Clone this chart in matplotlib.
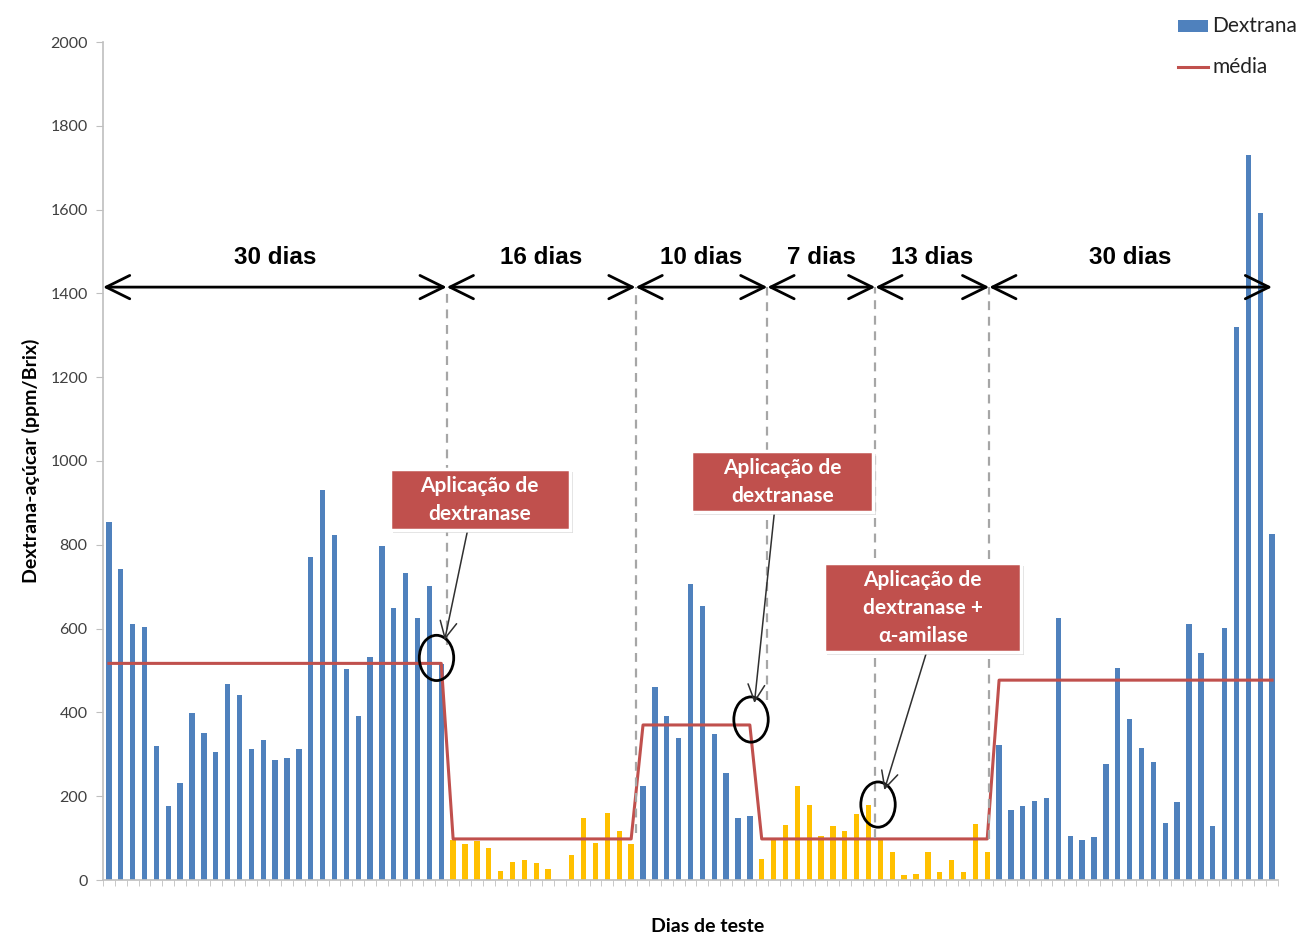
import matplotlib
matplotlib.use("Agg")
import matplotlib.pyplot as plt
from matplotlib.patches import Rectangle, Ellipse
from matplotlib.lines import Line2D

# ---------------- data ----------------
dextrana_s1 = [855, 743, 611, 605, 319, 177, 232, 398, 352, 305, 467, 441, 312, 333, 286,
               291, 312, 771, 931, 824, 504, 392, 532, 798, 650, 733, 625, 702, 515]
dextrana_s2 = [95, 87, 93, 76, 22, 44, 48, 40, 26, 0, 60, 147, 89, 161, 118, 86]
dextrana_s3 = [225, 461, 391, 340, 706, 654, 348, 256, 147, 153]
dextrana_s4 = [50, 95, 131, 225, 178, 105, 130]
dextrana_s5 = [118, 157, 178, 95, 68, 12, 14, 66, 18, 48, 18, 133, 68]
dextrana_s6 = [323, 167, 177, 188, 196, 626, 106, 96, 103, 276, 506, 384, 315, 282, 135,
               187, 612, 542, 130, 601, 1320, 1730, 1593, 826]
segments = [dextrana_s1, dextrana_s2, dextrana_s3, dextrana_s4, dextrana_s5, dextrana_s6]
segment_colors = ["#4F81BD", "#FFC000", "#4F81BD", "#FFC000", "#FFC000", "#4F81BD"]
media_segments = [517, 98, 370, 98, 98, 477]

period_labels = ["30 dias", "16 dias", "10 dias", "7 dias", "13 dias", "30 dias"]
period_bounds = [-0.5, 28.46, 44.37, 55.48, 64.57, 74.17, 98.0]

yticks = [0, 200, 400, 600, 800, 1000, 1200, 1400, 1600, 1800, 2000]

# ---------------- build series ----------------
values, colors, media = [], [], []
for seg, c, m in zip(segments, segment_colors, media_segments):
    values += seg
    colors += [c] * len(seg)
    media += [m] * len(seg)
x = list(range(len(values)))

W, H = 1302, 948
fig = plt.figure(figsize=(W / 100, H / 100), dpi=100)
ax = fig.add_axes([103 / W, 1 - 880 / H, (1278 - 103) / W, (880 - 42) / H])

FONT = ["Lato", "DejaVu Sans"]
ARIAL = ["Liberation Sans", "DejaVu Sans"]

ax.bar(x, values, width=0.45, color=colors, zorder=2)
ax.plot(x, media, color="#C0504D", lw=2.2, zorder=3)

ax.set_xlim(-0.5, len(values) - 0.5)
ax.set_ylim(0, 2000)
ax.set_yticks(yticks)
ax.set_yticklabels([str(t) for t in yticks], family=FONT, fontsize=11.5, color="#404040")
ax.set_xticks([])
ax.set_xticks([i + 0.5 for i in range(-1, len(values))], minor=True)
ax.tick_params(axis="x", which="minor", length=4, color="#BFBFBF", direction="out")
ax.tick_params(axis="y", length=5, color="#BFBFBF", direction="out", pad=6)
for s in ["top", "right"]:
    ax.spines[s].set_visible(False)
ax.spines["left"].set_color("#BFBFBF")
ax.spines["bottom"].set_color("#BFBFBF")
ax.spines["left"].set_linewidth(1.2)
ax.spines["bottom"].set_linewidth(1.2)

ax.set_xlabel("Dias de teste", family=FONT, fontsize=14, fontweight="bold")
ax.xaxis.set_label_coords((708 - 103) / (1278 - 103), -(927 - 880) / (880 - 42))
ax.xaxis.label.set_va("center")
ax.set_ylabel("Dextrana-açúcar (ppm/Brix)", family=FONT, fontsize=14, fontweight="bold", labelpad=7)

# ---------------- period arrows ----------------
arrow_y = 1415
for i, lab in enumerate(period_labels):
    a, b = period_bounds[i], period_bounds[i + 1]
    ax.annotate("", xy=(b, arrow_y), xytext=(a, arrow_y),
                arrowprops=dict(arrowstyle="<->,head_length=0.85,head_width=0.42",
                                mutation_scale=20, lw=2.0, color="black",
                                shrinkA=0, shrinkB=0), zorder=5, annotation_clip=False)
    ax.text((a + b) / 2, 1458, lab, ha="center", va="bottom", family=ARIAL,
            fontsize=17.5, fontweight="bold", zorder=6)

# dashed vertical lines (x, y bottom)
dash_specs = [(period_bounds[1], 560), (period_bounds[2], 112), (period_bounds[3], 430),
              (period_bounds[4], 100), (period_bounds[5], 98)]
for xx, yb in dash_specs:
    ax.plot([xx, xx], [yb, arrow_y], color="#A6A6A6", lw=1.6, ls=(0, (4, 3)), zorder=4)

# ellipses
for cx, cy in [(27.6, 530), (54.1, 383), (64.8, 180)]:
    ax.add_patch(Ellipse((cx, cy), 2.9, 108, fill=False, ec="black", lw=2.0, zorder=6))

# boxes with text
def px2d(px, py):
    return (px - 109) / 11.878, (880 - py) / 0.419

boxes = [((390, 469, 570, 530), "Aplicação de\ndextranase", (468, 530), (445, 640)),
         ((692, 451, 874, 512), "Aplicação de\ndextranase", (775, 512), (755, 703)),
         ((825, 563, 1022, 652), "Aplicação de\ndextranase +\nα-amilase", (927, 653), (885, 790))]
for (x0, y0, x1, y1), txt, (sx, sy), (tx, ty) in boxes:
    d0 = px2d(x0, y1)
    d1 = px2d(x1, y0)
    sh = px2d(x0 + 3, y1 + 3)
    ax.add_patch(Rectangle(sh, d1[0] - d0[0], d1[1] - d0[1], fc="#C8C8C8", ec="none",
                           alpha=0.6, zorder=6.5))
    ax.add_patch(Rectangle(d0, d1[0] - d0[0], d1[1] - d0[1], fc="#C0504D", ec="white",
                           lw=2.5, zorder=7))
    ax.text((d0[0] + d1[0]) / 2, (d0[1] + d1[1]) / 2, txt, ha="center", va="center",
            color="white", family=FONT, fontsize=15, fontweight="bold",
            linespacing=1.5, zorder=8)
    ax.annotate("", xy=px2d(tx, ty), xytext=px2d(sx, sy),
                arrowprops=dict(arrowstyle="->,head_length=0.6,head_width=0.3",
                                mutation_scale=20, lw=1.1, color="#303030",
                                shrinkA=0, shrinkB=0), zorder=6)

# ---------------- legend ----------------
fig.add_artist(Rectangle((1178 / W, 1 - 32 / H), 30 / W, 12 / H, transform=fig.transFigure,
                         fc="#4F81BD", ec="none"))
fig.text(1212 / W, 1 - 26 / H, "Dextrana", family=FONT, fontsize=15, va="center",
         ha="left", color="#222222")
fig.add_artist(Line2D([1178 / W, 1208 / W], [1 - 67 / H, 1 - 67 / H], transform=fig.transFigure,
                      color="#C0504D", lw=2.2))
fig.text(1212 / W, 1 - 67 / H, "média", family=FONT, fontsize=15, va="center",
         ha="left", color="#222222")

fig.savefig("out.png", dpi=100)
